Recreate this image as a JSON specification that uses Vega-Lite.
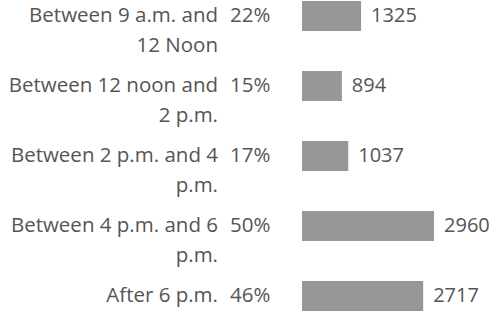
{
  "$schema": "https://vega.github.io/schema/vega-lite/v6.json",
  "padding": 0,
  "background": "white",
  "spacing": 12,
  "config": {"view": {"stroke": null}, "concat": {"spacing": 12}},
  "datasets": {
    "rows": [
      {"period": "Between 9 a.m. and 12 Noon", "lines": ["Between 9 a.m. and", "12 Noon"], "pct": "22%", "count": 1325},
      {"period": "Between 12 noon and 2 p.m.", "lines": ["Between 12 noon and", "2 p.m."], "pct": "15%", "count": 894},
      {"period": "Between 2 p.m. and 4 p.m.", "lines": ["Between 2 p.m. and 4", "p.m."], "pct": "17%", "count": 1037},
      {"period": "Between 4 p.m. and 6 p.m.", "lines": ["Between 4 p.m. and 6", "p.m."], "pct": "50%", "count": 2960},
      {"period": "After 6 p.m.", "lines": ["After 6 p.m."], "pct": "46%", "count": 2717}
    ]
  },
  "hconcat": [
    {
      "width": 218,
      "height": 312,
      "data": {"name": "rows"},
      "mark": {"type": "text", "align": "right", "baseline": "line-top", "lineHeight": 30, "dy": -15, "font": "Open Sans", "fontSize": 20.5, "color": "#555555"},
      "encoding": {
        "y": {"field": "period", "type": "nominal", "sort": null, "axis": null, "scale": {"type": "band", "paddingInner": 0.571, "paddingOuter": 0.014}},
        "x": {"value": "width"},
        "text": {"field": "lines"}
      }
    },
    {
      "width": 60,
      "height": 312,
      "data": {"name": "rows"},
      "mark": {"type": "text", "align": "left", "baseline": "middle", "font": "Open Sans", "fontSize": 20.5, "color": "#555555"},
      "encoding": {
        "y": {"field": "period", "type": "nominal", "sort": null, "axis": null, "scale": {"type": "band", "paddingInner": 0.571, "paddingOuter": 0.014}},
        "x": {"value": 0},
        "text": {"field": "pct"}
      }
    },
    {
      "width": 196,
      "height": 312,
      "data": {"name": "rows"},
      "encoding": {
        "y": {"field": "period", "type": "nominal", "sort": null, "axis": null, "scale": {"type": "band", "paddingInner": 0.571, "paddingOuter": 0.014}},
        "x": {"field": "count", "type": "quantitative", "axis": null, "scale": {"domain": [0, 4395], "nice": false}}
      },
      "layer": [
        {"mark": {"type": "bar", "color": "#979797"}},
        {"mark": {"type": "text", "align": "left", "baseline": "middle", "dx": 10, "font": "Open Sans", "fontSize": 20, "color": "#555555"}, "encoding": {"text": {"field": "count"}}}
      ]
    }
  ]
}
